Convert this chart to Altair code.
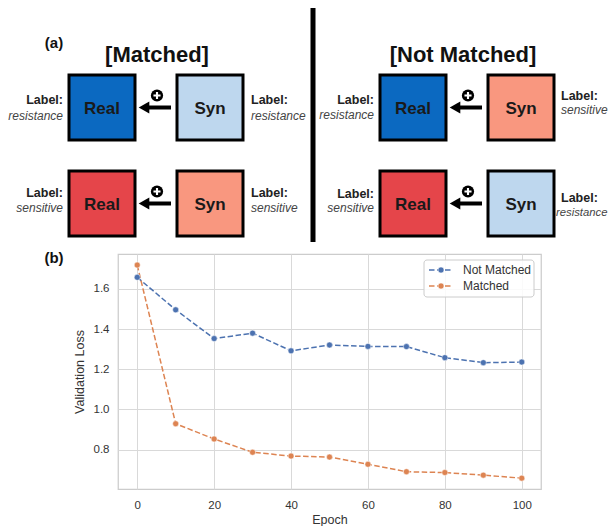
import altair as alt
import pandas as pd

# ---------------- data: panel (b) ----------------
epochs = [0, 10, 20, 30, 40, 50, 60, 70, 80, 90, 100]
loss_not_matched = [1.658, 1.496, 1.353, 1.380, 1.292, 1.321, 1.314, 1.313, 1.258, 1.233, 1.236]
loss_matched = [1.719, 0.929, 0.853, 0.787, 0.768, 0.763, 0.727, 0.690, 0.686, 0.673, 0.658]
series_names = ["Not Matched", "Matched"]
series_colors = ["#4c72b0", "#dd8452"]
x_ticks = [0, 20, 40, 60, 80, 100]
y_ticks = [0.8, 1.0, 1.2, 1.4, 1.6]

# ---------------- data: panel (a) schematic ----------------
panel_titles = ["[Matched]", "[Not Matched]"]
real_class = [["resistance", "sensitive"], ["resistance", "sensitive"]]
syn_class = [["resistance", "sensitive"], ["sensitive", "resistance"]]
real_colors = {"resistance": "#0b69c1", "sensitive": "#e5454a"}
syn_colors = {"resistance": "#bed7ee", "sensitive": "#f9977f"}

FONT = "Liberation Sans"

# ---------------- layout (page pixels of the reference) ----------------
OX, OY = 118, 254          # top-left of the plot area
PW, PH = 423, 235          # plot area size
real_left = [69, 380]
syn_gap = 108
box_w, box_h = 66, 65
row_top = [75, 171]
title_x = [157, 463]
title_y = 55
# y of ("Label:", class name) text lines: [panel][row]
left_lab_y = [[(100, 116), (193, 208)], [(100, 115), (194, 208)]]
right_lab_y = [[(100, 116), (193, 208)], [(96, 110), (198, 213)]]
right_lab_dx = [8, 7]
RIGHT_EDGE = 607.5


def px(v):
    return v - OX


def py(v):
    return v - OY


ident = dict(scale=None, axis=None)

boxes, box_txt, arrows, heads, plus = [], [], [], [], []
lab_r, term_r, lab_l, term_l, term_l_edge = [], [], [], [], []
for p in range(2):
    for r in range(2):
        top = row_top[r]
        cy = top + box_h / 2
        rl = real_left[p]
        sl = rl + syn_gap
        for name, left, fill in [("Real", rl, real_colors[real_class[p][r]]),
                                 ("Syn", sl, syn_colors[syn_class[p][r]])]:
            boxes.append(dict(x=px(left), x2=px(left + box_w), y=py(top), y2=py(top + box_h), fill=fill))
            box_txt.append(dict(x=px(left + box_w / 2), y=py(cy + 1), t=name))
        arrows.append(dict(x=px(sl - 6), x2=px(rl + box_w + 11), y=py(cy)))
        heads.append(dict(x=px(rl + box_w + 9), y=py(cy)))
        plus.append(dict(x=px((rl + box_w + sl) / 2 + 1), y=py(cy - 12)))
        ly1, ly2 = left_lab_y[p][r]
        lab_r.append(dict(x=px(rl - 6), y=py(ly1), t="Label:"))
        term_r.append(dict(x=px(rl - 6), y=py(ly2), t=real_class[p][r]))
        lx = sl + box_w + right_lab_dx[p]
        ry1, ry2 = right_lab_y[p][r]
        lab_l.append(dict(x=px(lx), y=py(ry1), t="Label:"))
        word = syn_class[p][r]
        if p == 1 and word == "resistance":
            # the reference crops this word at the figure edge; keep it inside the page
            term_l_edge.append(dict(x=px(RIGHT_EDGE - 51.5), y=py(ry2), t=word))
        else:
            term_l.append(dict(x=px(lx), y=py(ry2), t=word))

rects = alt.Chart(pd.DataFrame(boxes)).mark_rect(stroke="black", strokeWidth=3).encode(
    x=alt.X("x:Q", **ident), x2="x2:Q",
    y=alt.Y("y:Q", **ident), y2="y2:Q",
    fill=alt.Fill("fill:N", scale=None, legend=None),
)


def text_layer(rows, align, size, weight="normal", style="normal", color="#1a1a1a", **kw):
    return alt.Chart(pd.DataFrame(rows)).mark_text(
        align=align, baseline="middle", font=FONT, fontSize=size,
        fontWeight=weight, fontStyle=style, color=color, **kw
    ).encode(x=alt.X("x:Q", **ident), y=alt.Y("y:Q", **ident), text="t:N")


box_labels = text_layer(box_txt, "center", 17, "bold")
l1 = text_layer(lab_r, "right", 12.5, "bold", color="#222222")
l2 = text_layer(term_r, "right", 12, "normal", "italic", color="#444444")
l3 = text_layer(lab_l, "left", 12.5, "bold", color="#222222")
l4 = text_layer(term_l, "left", 12, "normal", "italic", color="#444444")
l5 = text_layer(term_l_edge, "left", 11.3, "normal", "italic", color="#444444")

titles = text_layer(
    [dict(x=px(title_x[i]), y=py(title_y), t=panel_titles[i]) for i in range(2)],
    "center", 22, "bold", color="#111111")
tags = text_layer(
    [dict(x=px(54), y=py(43), t="(a)"), dict(x=px(54), y=py(258), t="(b)")],
    "center", 15, "bold", color="#111111")

shafts = alt.Chart(pd.DataFrame(arrows)).mark_rule(color="black", strokeWidth=4).encode(
    x=alt.X("x:Q", **ident), x2="x2:Q", y=alt.Y("y:Q", **ident))
heads_l = alt.Chart(pd.DataFrame(heads)).mark_point(
    shape="triangle-left", filled=True, color="black", size=150, opacity=1
).encode(x=alt.X("x:Q", **ident), y=alt.Y("y:Q", **ident))
circles = alt.Chart(pd.DataFrame(plus)).mark_point(
    shape="circle", filled=True, color="black", size=150, opacity=1
).encode(x=alt.X("x:Q", **ident), y=alt.Y("y:Q", **ident))
plus_path = "M-1,-0.3L-1,0.3L-0.3,0.3L-0.3,1L0.3,1L0.3,0.3L1,0.3L1,-0.3L0.3,-0.3L0.3,-1L-0.3,-1L-0.3,-0.3Z"
pluses = alt.Chart(pd.DataFrame(plus)).mark_point(
    shape=plus_path, filled=True, color="white", size=50, opacity=1
).encode(x=alt.X("x:Q", **ident), y=alt.Y("y:Q", **ident))

divider = alt.Chart(pd.DataFrame([dict(x=px(310.5), x2=px(315.5), y=py(8), y2=py(242))])).mark_rect(
    color="black").encode(x=alt.X("x:Q", **ident), x2="x2:Q", y=alt.Y("y:Q", **ident), y2="y2:Q")

# legend for panel (b), inside plot area (top-right)
leg_frame = alt.Chart(pd.DataFrame([dict(x=306, x2=416, y=6, y2=43)])).mark_rect(
    fill="white", fillOpacity=0.85, stroke="#cccccc", strokeWidth=1, cornerRadius=3
).encode(x=alt.X("x:Q", **ident), x2="x2:Q", y=alt.Y("y:Q", **ident), y2="y2:Q")
leg_items = pd.DataFrame({
    "name": series_names,
    "col": series_colors,
    "y": [16, 32],
    "x": [311, 311], "x2": [335, 335], "xm": [323, 323], "xt": [345, 345],
})
leg_lines = alt.Chart(leg_items).mark_rule(strokeDash=[5.5, 2.5], strokeWidth=1.5).encode(
    x=alt.X("x:Q", **ident), x2="x2:Q", y=alt.Y("y:Q", **ident),
    color=alt.Color("col:N", scale=None, legend=None))
leg_pts = alt.Chart(leg_items).mark_point(filled=True, size=36, opacity=1, stroke="white", strokeWidth=0.5).encode(
    x=alt.X("xm:Q", **ident), y=alt.Y("y:Q", **ident),
    fill=alt.Fill("col:N", scale=None, legend=None))
leg_txt = alt.Chart(leg_items).mark_text(
    align="left", baseline="middle", font=FONT, fontSize=12, color="#333333"
).encode(x=alt.X("xt:Q", **ident), y=alt.Y("y:Q", **ident), text="name:N")

diagram = alt.layer(divider, rects, box_labels, l1, l2, l3, l4, l5, titles, tags,
                    shafts, heads_l, circles, pluses, leg_frame, leg_lines, leg_pts, leg_txt)

# ---------------- line chart ----------------
df = pd.DataFrame({
    "Epoch": epochs * 2,
    "Validation Loss": loss_not_matched + loss_matched,
    "series": [series_names[0]] * len(epochs) + [series_names[1]] * len(epochs),
})
base = alt.Chart(df).encode(
    x=alt.X("Epoch:Q", scale=alt.Scale(domain=[-5, 105], nice=False, zero=False),
            axis=alt.Axis(values=x_ticks, title="Epoch", titlePadding=3, labelPadding=10)),
    y=alt.Y("Validation Loss:Q", scale=alt.Scale(domain=[0.604, 1.774], nice=False, zero=False),
            axis=alt.Axis(values=y_ticks, format=".1f", title="Validation Loss", titlePadding=7)),
    color=alt.Color("series:N", scale=alt.Scale(domain=series_names, range=series_colors), legend=None),
    detail="series:N",
)
lines = base.mark_line(strokeDash=[5.5, 2.5], strokeWidth=1.5)
pts = base.mark_point(filled=True, size=36, opacity=1, stroke="white", strokeWidth=0.5)
line_chart = alt.layer(lines, pts)

chart = alt.layer(line_chart, diagram).resolve_scale(
    x="independent", y="independent", color="independent"
).properties(
    width=PW, height=PH, padding=0, background="white"
).configure_view(
    stroke="#cccccc", strokeWidth=1.25
).configure_axis(
    labelFont=FONT, titleFont=FONT, labelFontSize=11.5, titleFontSize=12.5,
    labelColor="#333333", titleColor="#333333", titleFontWeight="normal",
    grid=True, gridColor="#d9d9d9", gridWidth=1, domain=False, ticks=False, labelPadding=9,
)

chart.save("out.html", embed_options={"renderer": "svg", "actions": False})
